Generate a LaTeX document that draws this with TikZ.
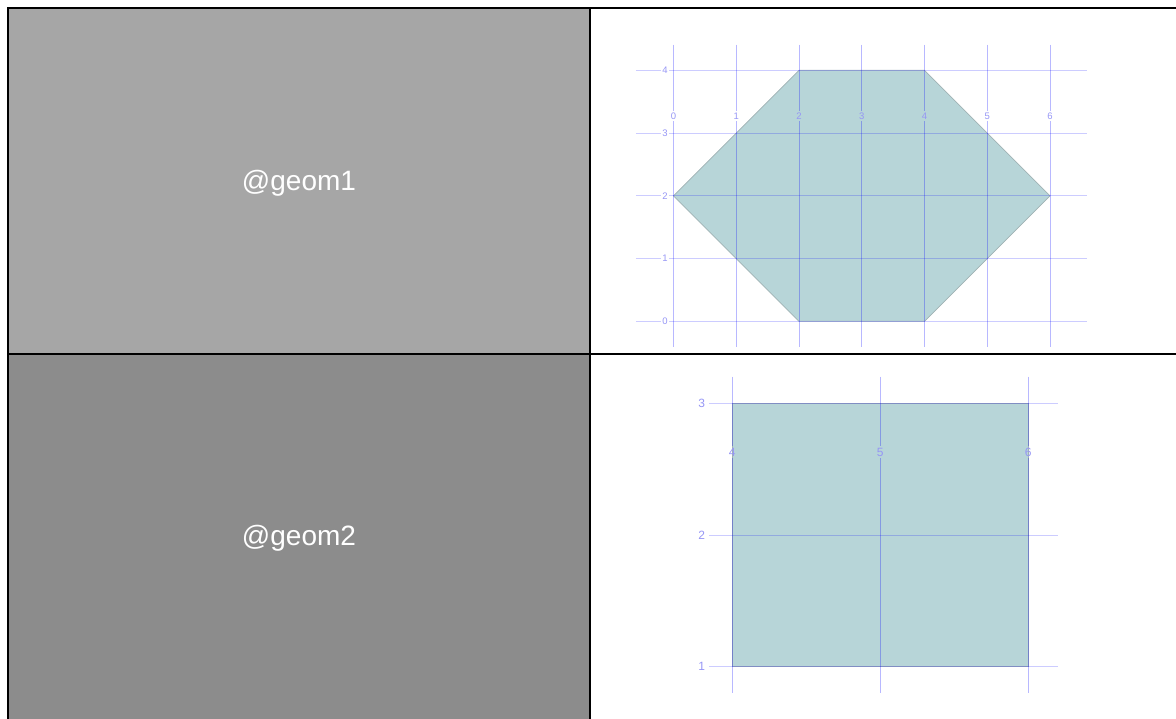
\documentclass[tikz,border=0pt]{standalone}
\usepackage{fontspec}
\setmainfont{Liberation Sans}
\definecolor{cellA}{RGB}{166,166,166}
\definecolor{cellB}{RGB}{140,140,140}
\definecolor{shapefill}{RGB}{183,213,216}
\definecolor{shapeedge}{RGB}{160,178,180}
\definecolor{gridc}{RGB}{0,0,255}
\definecolor{labc}{RGB}{150,150,245}
\begin{document}
\begin{tikzpicture}[x=1pt,y=-1pt,
  cell/.style={inner sep=0pt, text=white, anchor=base, font=\fontsize{28}{32}\selectfont},
  gridv/.style={draw=gridc, draw opacity=0.28, line width=1pt},
  gridh/.style={draw=gridc, draw opacity=0.2, line width=1pt},
  labone/.style={text=labc, inner sep=1.5pt, font=\fontsize{9.5}{11}\selectfont},
  labtwo/.style={text=labc, inner sep=1.5pt, font=\fontsize{12}{14}\selectfont},
  geomshape/.style={fill=shapefill, draw=shapeedge, line width=0.7pt},
  border/.style={line width=2pt, draw=black}]
\useasboundingbox (0,0) rectangle (1176,719);
% cells
\fill[cellA] (9,9) rectangle (589,353);
\fill[cellB] (9,355) rectangle (589,719);
\node[cell] (g1) at (299,190.7) {@geom1};
\node[cell] (g2) at (299,545.5) {@geom2};
% table lines
\coordinate (tl) at (8,8);
\coordinate (tr) at (1176,8);
\coordinate (bl) at (8,719);
\coordinate (ct) at (590,8);
\coordinate (cb) at (590,719);
\coordinate (rl) at (8,354);
\coordinate (rr) at (1176,354);
\draw[border] (bl) -- (tl) -- (tr);
\draw[border] (ct) -- (cb);
\draw[border] (rl) -- (rr);
% plot 1
\begin{scope}[shift={(673.5,321.3)}, x=62.75pt, y=62.75pt]
  \filldraw[geomshape] (0,2) -- (2,4) -- (4,4) -- (6,2) -- (4,0) -- (2,0) -- cycle;
  \foreach \u in {0,...,6} {
    \node[labone] (xa\u) at (\u,3.27) {\u};
    \draw[gridv] (\u,4.41) -- (xa\u.north);
    \draw[gridv] (xa\u.south) -- (\u,-0.405);
  }
  \foreach \v in {0,...,4} {
    \node[labone] (ya\v) at (-0.135,\v) {\v};
    \draw[gridh] (-0.6,\v) -- (ya\v.west);
    \draw[gridh] (ya\v.east) -- (6.59,\v);
  }
\end{scope}
% plot 2
\begin{scope}[shift={(732.3,666.7)}, x=148pt, y=131.5pt]
  \filldraw[geomshape] (0,0) rectangle (2,2);
  \foreach \u/\t in {0/4,1/5,2/6} {
    \node[labtwo] (xb\u) at (\u,1.633) {\t};
    \draw[gridv] (\u,2.205) -- (xb\u.north);
    \draw[gridv] (xb\u.south) -- (\u,-0.202);
  }
  \foreach \v/\t in {0/1,1/2,2/3} {
    \node[labtwo] (yb\v) at (-0.206,\v) {\t};
    \draw[gridh] (-0.155,\v) -- (2.199,\v);
  }
\end{scope}
\end{tikzpicture}
\end{document}
